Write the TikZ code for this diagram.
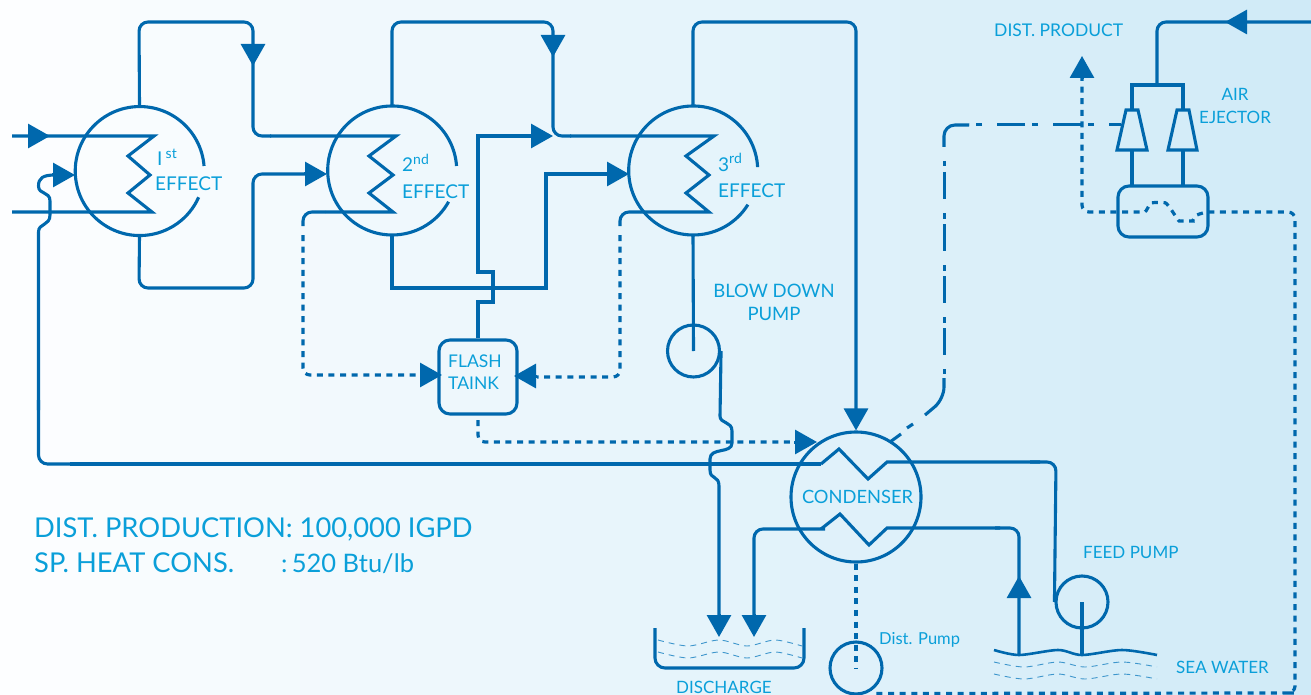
\documentclass[tikz,border=0pt]{standalone}
\usepackage{fontspec}
\setmainfont{Lato}
\usetikzlibrary{arrows.meta,calc}
\definecolor{pipeblue}{HTML}{0068AD}
\definecolor{labelblue}{HTML}{0A9FD9}
\definecolor{bgleft}{HTML}{FDFEFF}
\definecolor{bgright}{HTML}{CFEAF7}
\definecolor{wavec}{HTML}{3E96CC}
\tikzset{
  pipe/.style={draw=pipeblue,line width=3.1pt,line join=miter},
  bendpipe/.style={pipe,rounded corners=9pt},
  dotline/.style={draw=pipeblue,line width=3.2pt,dash pattern=on 6pt off 5.6pt,rounded corners=7pt},
  dashdoth/.style={draw=pipeblue,line width=3pt,dash pattern=on 28pt off 15pt on 6pt off 7pt,dash phase=16pt},
  dashdotv/.style={draw=pipeblue,line width=3pt,dash pattern=on 5.5pt off 5.5pt on 27pt off 14pt},
  tipline/.style={draw=pipeblue,line width=3pt,-{Triangle[length=22pt,width=24pt,fill=pipeblue]}},
  thinwave/.style={draw=wavec,line width=.9pt,dash pattern=on 6pt off 5pt},
  lbl/.style={text=labelblue,inner sep=0pt,font=\fontsize{19}{22}\selectfont},
  vessel/.style={circle,inner sep=0pt,minimum size=129pt},
  pumpc/.style={circle,draw=pipeblue,line width=3.1pt,inner sep=0pt,minimum size=52pt},
}
\newcommand{\supr}[2]{\raisebox{#1pt}{\fontsize{14}{14}\selectfont #2}}
\begin{document}
\begin{tikzpicture}[x=1pt,y=-1pt]
\useasboundingbox (0,0) rectangle (1311,695);
\foreach \i in {0,...,65}{
  \pgfmathtruncatemacro\p{\i*100/65}
  \fill[bgright!\p!bgleft] (\i*20,0) rectangle ({min(\i*20+21,1311)},695);
}

% vessels
\node[vessel] (e1) at (139.5,170.5) {};
\node[vessel] (e2) at (392,170.5) {};
\node[vessel] (e3) at (693,170.5) {};
\draw[pipe] (e1.4.5) arc[start angle=4.5,end angle=336,radius=64.5pt];
\draw[pipe] (e2.4) arc[start angle=4,end angle=331,radius=64.5pt];
\draw[pipe] (e3.3) arc[start angle=3,end angle=328,radius=64.5pt];
\node[vessel,draw=pipeblue,line width=3.1pt,minimum size=130pt,text=labelblue,font=\fontsize{18.3}{22}\selectfont] (cond) at (856,497) {\hspace*{3pt}CONDENSER};
\node[draw=pipeblue,line width=3.1pt,rounded corners=11pt,minimum width=78pt,minimum height=74pt,inner sep=0pt] (flash) at (478,377) {};
\node[pumpc] (bdp) at (693.5,351) {};
\node[pumpc] (fp) at (1082,602) {};
\node[pumpc] (dp) at (856,668) {};
\node[draw=pipeblue,line width=3.1pt,rounded corners=11pt,minimum width=90pt,minimum height=51pt,inner sep=0pt] (ej) at (1163,211.5) {};

% coils
\draw[pipe] (12,136) -- (154,136) -- (128,156) -- (150,175) -- (128,193) -- (152,212) -- (12,212);
\draw[pipe] (270,136) -- (396,136) -- (369,156) -- (393,175) -- (369,193) -- (393,212) -- (325,212);
\draw[pipe] (570,136) -- (714,136) -- (686,156) -- (709,175) -- (686,193) -- (709,212) -- (640,212);

% steam lines
\draw[bendpipe] (e1.north) -- (139,22) -- (253,22) -- (253,136) -- (271,136);
\draw[bendpipe] (e2.north) -- (392,22) -- (553,22) -- (553,136) -- (571,136);
\draw[bendpipe] (e3.north) -- (693,22) -- (856,22) -- (856,420);
\draw[tipline] (253,44) -- (253,66);
\draw[tipline] (553,35) -- (553,57);
\draw[tipline] (856,410) -- (cond.north);

% condensate 1st to 2nd, 2nd to 3rd
\draw[bendpipe] (e1.south) -- (139,288) -- (253,288) -- (253,174) -- (310,174);
\draw[tipline] (304,174) -- (327,174);
\draw[pipe] (e2.south) -- (392,288) -- (546,288) -- (546,174) -- (610,174);
\draw[tipline] (607,174) -- (629,174);

% flash tank vapour
\draw[pipe] (flash.north) -- (478,302) -- (493,302) -- (493,272) -- (478,272) -- (478,136) -- (535,136);
\draw[tipline] (531,136) -- (553,136);

% condensate to the flash tank
\draw[bendpipe] (325,212) -- (303,212) -- (303,226);
\draw[dotline] (303,235) -- (303,375) -- (420,375);
\draw[tipline] (420,375) -- (442,375);
\draw[bendpipe] (640,212) -- (620,212) -- (620,226);
\draw[dotline] (620,235) -- (620,377) -- (537,377);
\draw[tipline] (537,376) -- (514,376);
\draw[dotline] (478,420) -- (478,442) -- (795,442);
\draw[tipline] (794,442) -- (817,442);

% feed to the 1st effect
\draw[pipe] (821,464) -- (70,464);
\draw[bendpipe] (80,464) -- (38.5,464) -- (38.5,400);
\draw[pipe] (38.5,410) -- (38.5,232)
  .. controls (38.5,223) and (50,226) .. (50,215) -- (50,201)
  .. controls (50,191) and (38.5,195) .. (38.5,186)
  .. controls (38.5,178) and (43,175) .. (55,175);
\draw[tipline] (52,175) -- (75,175);
\draw[tipline] (28,136) -- (50,136);

% condenser coils
\draw[pipe] (821,464) -- (839,449) -- (868,479) -- (887,462) -- (1040,462);
\draw[bendpipe] (1030,462) -- (1056,462) -- (fp.west);
\draw[pipe] (821,529) -- (840,514) -- (869,545) -- (887,528) -- (1000,528);
\draw[bendpipe] (995,528) -- (1019,528) -- (1019,655);
\draw[tipline] (1019,598) -- (1019,576);
\draw[bendpipe] (825,529) -- (754,529) -- (754,620);
\draw[tipline] (754,614) -- (754,637);

% blow down
\draw[pipe] (e3.south) -- (bdp.center);
\draw[pipe] (bdp.east) -- (720,416) .. controls (720,424) and (732,421) .. (732,431) -- (732,443)
  .. controls (732,454) and (710,447) .. (710,459) -- (710,470)
  .. controls (710,480) and (719,475) .. (719,486) -- (719,620);
\draw[tipline] (719,614) -- (719,637);

% feed pump stem
\draw[pipe] (fp.center) -- (1082,655);

% distillate
\draw[dotline] (cond.south) -- (dp.center);
\draw[dotline] (dp.south east) ++(1,6) -- (1287,693) -- (1295,693) -- (1295,212) -- (1203,212)
  .. controls (1195,216) and (1192,221) .. (1186,221) .. controls (1178,221) and (1168,203) .. (1158,202)
  .. controls (1150,203) and (1146,212) .. (1138,212) -- (1082,212) -- (1082,78);
\draw[tipline] (1082,79) -- (1082,56);

% non condensables
\draw[pipe] (890,442) -- (901,434);
\draw[pipe] (907,428) -- (913,424);
\draw[pipe,rounded corners=12pt] (925,415) -- (944,399) -- (944,378);
\draw[dashdotv] (944,161) -- (944,374);
\draw[pipe,rounded corners=11pt] (944,147) -- (944,125) -- (969,125);
\draw[dashdoth] (1121,125) -- (969,125);

% air ejector
\draw[bendpipe] (1311,22) -- (1157,22) -- (1157,85);
\draw[tipline] (1247,22) -- (1225,22);
\draw[pipe] (1132,110) -- (1132,85) -- (1183,85) -- (1183,110);
\draw[pipe] (1126,110) -- (1138,110) -- (1147,150) -- (1117,150) -- cycle;
\draw[pipe] (1177,110) -- (1189,110) -- (1197,150) -- (1168,150) -- cycle;
\draw[pipe] (1132,150) -- (1132,186);
\draw[pipe] (1183,150) -- (1183,186);

% discharge basin
\draw[bendpipe,rounded corners=10pt] (655,628) -- (655,668) -- (804,668) -- (804,628);
\draw[thinwave] plot[smooth] coordinates {(658,640) (688,646) (719,640) (747,646) (775,640) (802,646)};
\draw[thinwave] plot[smooth] coordinates {(658,652) (688,658) (719,652) (747,658) (775,652) (802,658)};

% sea
\draw[pipe,line width=2.6pt] plot[smooth] coordinates {(994,650) (1019,655) (1058,650) (1082,655) (1122,650) (1157,655)};
\draw[thinwave] plot[smooth] coordinates {(994,662) (1024,667) (1058,662) (1085,667) (1122,662) (1157,667)};
\draw[thinwave] plot[smooth] coordinates {(994,674) (1024,679) (1058,674) (1085,679) (1122,674) (1157,679)};

% labels
\node[lbl,anchor=base west] (l1) at (157,166) {I\,\supr{7}{st}};
\node[lbl,anchor=base west] (l1b) at (155,191) {EFFECT};
\node[lbl,anchor=base west] (l2) at (402,172) {2\supr{7}{nd}};
\node[lbl,anchor=base west] (l2b) at (402,198) {EFFECT};
\node[lbl,anchor=base west] (l3) at (718,172) {3\supr{8}{rd}};
\node[lbl,anchor=base west] (l3b) at (718,197) {EFFECT};
\node[lbl,anchor=base west,align=left,font=\fontsize{17.5}{22}\selectfont] (lfl) at (448,389) {FLASH\\TAINK};
\node[lbl,anchor=base,align=center,font=\fontsize{18.5}{23}\selectfont] (lbd) at (774,320) {BLOW DOWN\\PUMP};
\node[lbl,anchor=base,align=center,font=\fontsize{17}{23}\selectfont] (lae) at (1235,124) {AIR\\EJECTOR};
\node[lbl,anchor=base west,font=\fontsize{17.5}{22}\selectfont] (ldp) at (994,37) {DIST. PRODUCT};
\node[lbl,anchor=base west,font=\fontsize{17}{22}\selectfont] (lfp) at (1083,558) {FEED PUMP};
\node[lbl,anchor=base west,font=\fontsize{16.5}{22}\selectfont] (ldist) at (879,644) {Dist. Pump};
\node[lbl,anchor=base west,font=\fontsize{17}{22}\selectfont] (lsea) at (1176,673) {SEA WATER};
\node[lbl,anchor=base west,font=\fontsize{17}{22}\selectfont] (ldis) at (676,693) {DISCHARGE};
\node[lbl,anchor=base west,font=\fontsize{27.3}{30}\selectfont] (lp1) at (34,537) {DIST. PRODUCTION: 100,000 IGPD};
\node[lbl,anchor=base west,font=\fontsize{27.3}{30}\selectfont] (lp2) at (34,572) {SP. HEAT CONS.};
\node[lbl,anchor=base west,font=\fontsize{25.5}{30}\selectfont] (lp3) at (281,572) {:\,520 Btu/lb};
\end{tikzpicture}
\end{document}
